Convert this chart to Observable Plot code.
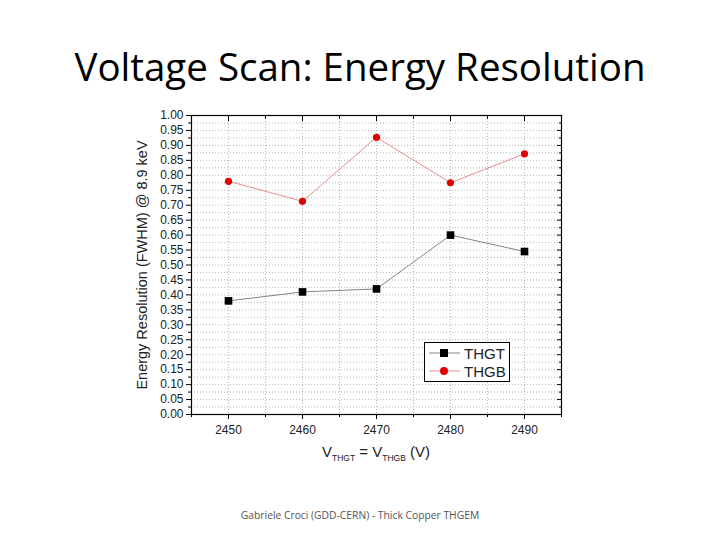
<!DOCTYPE html>
<html>
<head>
<meta charset="utf-8">
<script src="https://cdn.jsdelivr.net/npm/d3@7"></script>
<script src="https://cdn.jsdelivr.net/npm/@observablehq/plot@0.6"></script>
<style>
  html, body { margin: 0; padding: 0; background: #fff; }
  #wrap { position: relative; width: 720px; height: 540px; overflow: hidden; }
  #title { position: absolute; left: 0; top: 47px; width: 720px; text-align: center;
           font-family: "Open Sans", sans-serif; font-size: 38.5px; color: #000; line-height: 1; }
  #footer { position: absolute; left: 0; top: 508px; width: 720px; text-align: center;
            font-family: "Open Sans", sans-serif; font-size: 10.3px; color: #555; }
  #xlabel { position: absolute; left: 0; top: 443px; width: 752px; text-align: center;
            font-family: "Liberation Sans", Arial, sans-serif; font-size: 15px; color: #222; }
  #xlabel sub { font-size: 8.5px; }
  #legend { position: absolute; left: 424px; top: 342px; }
  #chart { position: absolute; left: 0; top: 0; }
</style>
</head>
<body>
<div id="wrap">
  <div id="chart"></div>
  <div id="title">Voltage Scan: Energy Resolution</div>
  <div id="xlabel">V<sub>THGT</sub> = V<sub>THGB</sub> (V)</div>
  <div id="legend"></div>
  <div id="footer">Gabriele Croci (GDD-CERN) - Thick Copper THGEM</div>
</div>
<script>
const volts = [2450, 2460, 2470, 2480, 2490];
const thgt = [0.38, 0.41, 0.42, 0.60, 0.545];
const thgb = [0.78, 0.713, 0.927, 0.775, 0.872];
const seriesNames = ["THGT", "THGB"];
const xTicks = [2450, 2460, 2470, 2480, 2490];
const xMinor = [2445, 2455, 2465, 2475, 2485, 2495];
const yTicks = d3.range(0, 21).map(i => i * 0.05);
const yMinor = d3.range(0, 20).map(i => i * 0.05 + 0.025);
const xGrid = d3.range(0, 11).map(i => 2445 + i * 5);
const yGrid = d3.range(0, 41).map(i => i * 0.025);

const rowsT = volts.map((v, i) => ({v, r: thgt[i]}));
const rowsB = volts.map((v, i) => ({v, r: thgb[i]}));

const plot = Plot.plot({
  width: 720,
  height: 540,
  marginLeft: 191,
  marginRight: 159,
  marginTop: 115,
  marginBottom: 126,
  style: {fontFamily: "Liberation Sans, Arial, sans-serif", fontSize: "12px", color: "#222", background: "transparent"},
  x: {domain: [2445, 2495]},
  y: {domain: [0, 1]},
  marks: [
    Plot.gridX(xGrid, {stroke: "#999", strokeOpacity: 0.7, strokeDasharray: "1,2"}),
    Plot.gridY(yGrid, {stroke: "#999", strokeOpacity: 0.7, strokeDasharray: "1,2"}),
    Plot.axisY(yTicks, {anchor: "left", tickFormat: d3.format(".2f"), tickSize: 5, tickPadding: 3, stroke: "#000", fill: "#222", label: null, fontSize: 12}),
    Plot.axisY({anchor: "left", ticks: [], label: "Energy Resolution (FWHM) @ 8.9 keV", labelAnchor: "center", labelArrow: "none", labelOffset: 55, fontSize: 14.5, fill: "#222", dx: -14}),
    Plot.axisY(yMinor, {anchor: "left", tickFormat: () => "", tickSize: 3, stroke: "#000", label: null}),
    Plot.axisY(yTicks, {anchor: "right", tickFormat: () => "", tickSize: -5, stroke: "#000", label: null}),
    Plot.axisY(yMinor, {anchor: "right", tickFormat: () => "", tickSize: -3, stroke: "#000", label: null}),
    Plot.axisX(xTicks, {anchor: "bottom", tickFormat: d => String(d), tickSize: 5, tickPadding: 6, stroke: "#000", fill: "#222", label: null, fontSize: 12}),
    Plot.axisX(xMinor, {anchor: "bottom", tickFormat: () => "", tickSize: 3, stroke: "#000", label: null}),
    Plot.axisX(xTicks, {anchor: "top", tickFormat: () => "", tickSize: -5, stroke: "#000", label: null}),
    Plot.axisX(xMinor, {anchor: "top", tickFormat: () => "", tickSize: -3, stroke: "#000", label: null}),
    Plot.frame({stroke: "#000", strokeWidth: 1.2}),
    Plot.line(rowsT, {x: "v", y: "r", stroke: "#666", strokeWidth: 0.8}),
    Plot.line(rowsB, {x: "v", y: "r", stroke: "#e07070", strokeWidth: 0.8}),
    Plot.dot(rowsT, {x: "v", y: "r", symbol: "square", r: 4.3, fill: "#000"}),
    Plot.dot(rowsB, {x: "v", y: "r", symbol: "circle", r: 3.6, fill: "#e00000"})
  ]
});
document.getElementById("chart").appendChild(plot);

// legend
const lw = 86, lh = 40;
const lg = d3.create("svg").attr("width", lw).attr("height", lh);
lg.append("rect").attr("x", 0.5).attr("y", 0.5).attr("width", lw - 1).attr("height", lh - 1)
  .attr("fill", "#fff").attr("stroke", "#000").attr("stroke-width", 1);
const legendStyles = [
  {stroke: "#666", fill: "#000", sym: "square"},
  {stroke: "#e07070", fill: "#e00000", sym: "circle"}
];
seriesNames.forEach((name, i) => {
  const yy = 11 + i * 18;
  const s = legendStyles[i];
  lg.append("line").attr("x1", 5).attr("x2", 36).attr("y1", yy).attr("y2", yy)
    .attr("stroke", s.stroke).attr("stroke-width", 0.8);
  if (s.sym === "square") {
    lg.append("rect").attr("x", 16).attr("y", yy - 4).attr("width", 8).attr("height", 8).attr("fill", s.fill);
  } else {
    lg.append("circle").attr("cx", 20).attr("cy", yy).attr("r", 4).attr("fill", s.fill);
  }
  lg.append("text").attr("x", 40).attr("y", yy + 5.5).text(name)
    .attr("font-family", "Liberation Sans, Arial, sans-serif").attr("font-size", 15).attr("fill", "#222");
});
document.getElementById("legend").appendChild(lg.node());
</script>
</body>
</html>
